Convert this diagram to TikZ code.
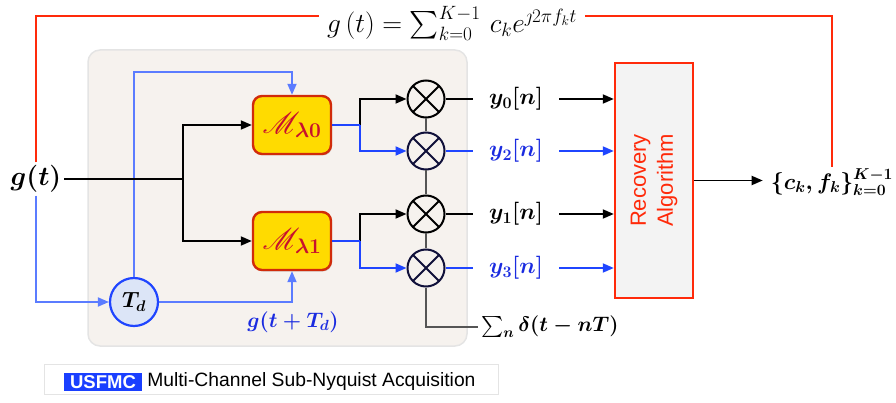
\RequirePackage{fix-cm}
\documentclass[tikz,border=0pt]{standalone}
\usepackage{amsmath,amssymb}
\usepackage{fontspec}
\newfontfamily\hv{Liberation Sans}
\usetikzlibrary{arrows.meta,shadows,calc}

% scalable script alphabet (rsfs10 at any size)
\DeclareFontFamily{U}{rsfsx}{\skewchar\font127 }
\DeclareFontShape{U}{rsfsx}{m}{n}{<-> rsfs10}{}
\DeclareMathAlphabet{\mathscrx}{U}{rsfsx}{m}{n}
\SetMathAlphabet{\mathscrx}{bold}{U}{rsfsx}{m}{n}

\definecolor{redc}{HTML}{FF2A0A}
\definecolor{mborder}{HTML}{D12B0A}
\definecolor{mfill}{HTML}{FFDB00}
\definecolor{mtext}{HTML}{C8102E}
\definecolor{bluel}{HTML}{5B7CFF}
\definecolor{blues}{HTML}{1F45FF}
\definecolor{bluet}{HTML}{1A2BE0}
\definecolor{grayc}{HTML}{555555}
\definecolor{tdfill}{HTML}{DCE5F7}
\definecolor{panelc}{HTML}{F6F2EE}
\definecolor{panelb}{HTML}{E4E4E4}
\definecolor{recfill}{HTML}{F3F3F3}
\definecolor{navyx}{HTML}{10103A}
\definecolor{usfblue}{HTML}{1A3FFF}

\tikzset{
  tip/.style={-{Triangle[length=11pt,width=9pt]}},
  blk/.style={line width=1.8pt, black},
  blkarr/.style={blk, tip},
  lbl/.style={line width=1.8pt, bluel},
  lblarr/.style={lbl, tip},
  sbl/.style={line width=1.8pt, blues},
  sblarr/.style={sbl, tip},
  redl/.style={line width=2pt, redc},
  gryl/.style={line width=1.6pt, grayc},
  mixer/.style={circle, draw=#1, line width=2pt, minimum size=37pt, inner sep=0pt,
    path picture={\draw[#1, line width=2pt]
      (path picture bounding box.north west) -- (path picture bounding box.south east)
      (path picture bounding box.north east) -- (path picture bounding box.south west);}},
  mbox/.style={draw=mborder, fill=mfill, line width=2.4pt, rounded corners=9pt,
    minimum width=78pt, minimum height=58pt, text=mtext, inner sep=0pt,
    font=\fontsize{30}{34}\selectfont\boldmath,
    drop shadow={opacity=0.3, shadow xshift=1pt, shadow yshift=-1.5pt}},
  ylab/.style={font=\fontsize{23}{26}\selectfont\boldmath, inner xsep=16pt, inner ysep=2pt},
  bmath/.style={font=\fontsize{21}{24}\selectfont\boldmath},
}

\begin{document}
\begin{tikzpicture}[x=1pt,y=-1pt]
\useasboundingbox (0,0) rectangle (896,403);

% shaded acquisition panel
\draw[fill=panelc, draw=panelb, line width=1.5pt, rounded corners=12pt] (88,50) rectangle (467,346);

% input signal and the model formula
\node[font=\fontsize{27}{30}\selectfont\boldmath, inner sep=3pt] (gt) at (36,179) {$g(t)$};
\node[font=\fontsize{27.5}{31}\selectfont\mathversion{normal}, inner xsep=8pt, inner ysep=0pt] (ftop) at (452,23)
  {$g\left(t\right)=\textstyle\sum_{k=0}^{K-1}\,c_k e^{\jmath 2\pi f_k t}$};
\coordinate (rl) at (0,16);

% modulator blocks and delay
\node[mbox] (M0) at (292,125) {$\mathscrx{M}_{\lambda\mathbf{0}}$};
\node[mbox] (M1) at (292,241) {$\mathscrx{M}_{\lambda\mathbf{1}}$};
\node[circle, draw=blues, fill=tdfill, line width=2.2pt, minimum size=48pt, inner sep=0pt,
  font=\fontsize{22}{25}\selectfont\boldmath] (Td) at (134,302) {$T_d$};
\node[bmath, text=bluet] (gd) at (293,322) {$g(t+T_d)$};

% mixers
\node[mixer=black] (X1) at (426,99) {};
\node[mixer=navyx] (X2) at (426,151) {};
\node[mixer=black] (X3) at (426,214) {};
\node[mixer=navyx] (X4) at (426,268) {};

% sample outputs
\node[ylab] (y0) at (516,99) {$y_0[n]$};
\node[ylab, text=bluet] (y2) at (516,151) {$y_2[n]$};
\node[ylab] (y1) at (516,214) {$y_1[n]$};
\node[ylab, text=bluet] (y3) at (516,268) {$y_3[n]$};

% recovery block and result
\node[draw=redc, fill=recfill, line width=2.4pt, minimum width=78pt, minimum height=235pt] (rec) at (654,180.5) {};
\node[rotate=90, font=\hv\fontsize{22}{27}\selectfont, text=redc, align=center] at (rec) {Recovery\\Algorithm};
\node[font=\fontsize{22.5}{26}\selectfont\boldmath, inner xsep=8pt, inner ysep=1pt] (ck) at (832,182) {$\{c_k,f_k\}_{k=0}^{K-1}$};

% sampling comb
\node[bmath, anchor=west, inner xsep=3pt] (dl) at (478,327) {$\sum_n\delta(t-nT)$};

% red model path
\draw[redl] (gt.north) |- (ftop.west |- rl);
\draw[redl] (ftop.east |- rl) -| (ck.north);

% delayed branch
\coordinate (tp) at (0,72);
\draw[lblarr] (gt.south) |- (Td.west);
\draw[lblarr] (Td.north) -- (Td.north |- tp) -| (M0.north);
\draw[lblarr] (Td.east) -| (M1.south);

% direct branch
\coordinate (j1) at (183,179);
\draw[blk] (gt.east) -- (j1);
\draw[blkarr] (j1) |- (M0.west);
\draw[blkarr] (j1) |- (M1.west);

% modulator outputs to mixers
\coordinate (s0) at (360,125);
\coordinate (s1) at (360,241);
\draw[blkarr] (s0) |- (X1.west);
\draw[sblarr] (s0) |- (X2.west);
\draw[sbl] (M0.east) -- (s0);
\draw[blkarr] (s1) |- (X3.west);
\draw[sblarr] (s1) |- (X4.west);
\draw[sbl] (M1.east) -- (s1);

% comb line
\draw[gryl] (X1.south) -- (X2.north);
\draw[gryl] (X2.south) -- (X3.north);
\draw[gryl] (X3.south) -- (X4.north);
\draw[gryl] (X4.south) |- (dl.west);

% samples to recovery
\draw[blk] (X1.east) -- (y0.west);
\draw[sbl] (X2.east) -- (y2.west);
\draw[blk] (X3.east) -- (y1.west);
\draw[sbl] (X4.east) -- (y3.west);
\draw[blkarr] (y0.east) -- (y0.east -| rec.west);
\draw[sblarr] (y2.east) -- (y2.east -| rec.west);
\draw[blkarr] (y1.east) -- (y1.east -| rec.west);
\draw[sblarr] (y3.east) -- (y3.east -| rec.west);
\draw[blkarr] (rec.east) -- (rec.east -| ck.west);

% caption tag
\node[fill=white, draw=panelb, line width=0.6pt, minimum width=454pt, minimum height=30pt,
  drop shadow={opacity=0.35, shadow xshift=0.8pt, shadow yshift=-1.2pt}] (cap) at (271,379) {};
\node[fill=usfblue, text=white, font=\hv\bfseries\fontsize{18.5}{20}\selectfont,
  inner xsep=6pt, inner ysep=0pt, minimum height=18pt] (usf) at (103,382) {USFMC};
\node[anchor=west, inner xsep=5pt, font=\hv\fontsize{19.3}{21}\selectfont] (captxt) at (usf.east)
  {Multi-Channel Sub-Nyquist Acquisition};
\end{tikzpicture}
\end{document}
